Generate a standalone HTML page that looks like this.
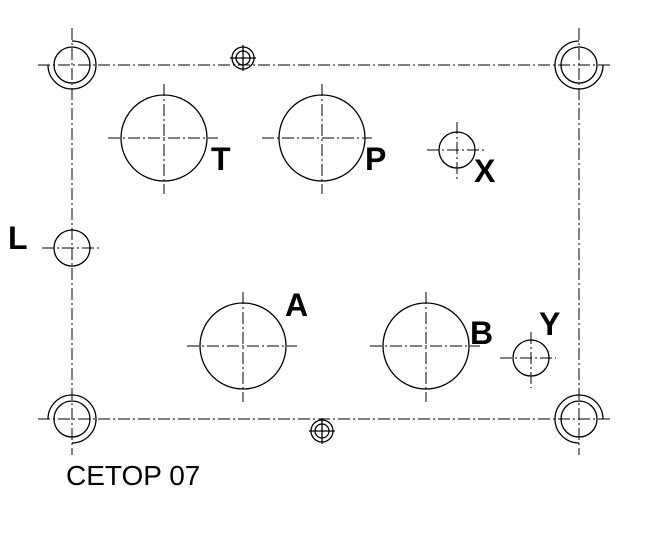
<!DOCTYPE html>
<html><head><style>body{margin:0;background:#fff}svg{display:block}text{font-family:"Liberation Sans",sans-serif;font-weight:bold;fill:#000}</style></head>
<body>
<svg width="650" height="560" viewBox="0 0 650 560" xmlns="http://www.w3.org/2000/svg">
<g stroke="#000" stroke-width="1" fill="none" stroke-dasharray="12,3,2,3">
<line x1="38" y1="65" x2="610" y2="65"/>
<line x1="38" y1="419" x2="610" y2="419"/>
<line x1="72" y1="28" x2="72" y2="455"/>
<line x1="579" y1="28" x2="579" y2="455"/>
<!-- big hole crosses -->
<line x1="108" y1="138" x2="218" y2="138"/><line x1="164" y1="84" x2="164" y2="194"/>
<line x1="262" y1="138" x2="372" y2="138"/><line x1="322" y1="84" x2="322" y2="194"/>
<line x1="187" y1="346" x2="297" y2="346"/><line x1="243" y1="292" x2="243" y2="402"/>
<line x1="370" y1="346" x2="480" y2="346"/><line x1="426" y1="292" x2="426" y2="402"/>
<line x1="427" y1="150" x2="487" y2="150"/><line x1="457" y1="122" x2="457" y2="180"/>
<line x1="42" y1="248" x2="102" y2="248"/>
<line x1="500" y1="358" x2="556" y2="358"/><line x1="531" y1="332" x2="531" y2="388"/>
</g>
<g stroke="#000" stroke-width="1.3" fill="none">
<circle cx="164" cy="138" r="43"/>
<circle cx="322" cy="138" r="43"/>
<circle cx="243" cy="346" r="43"/>
<circle cx="426" cy="346" r="43"/>
<circle cx="457" cy="150" r="18"/>
<circle cx="72" cy="248" r="18"/>
<circle cx="531" cy="358" r="18"/>
<circle cx="72" cy="65" r="18"/><path d="M72 41 A24 24 0 1 1 48 65"/>
<circle cx="579" cy="65" r="18"/><path d="M603 65 A24 24 0 1 1 579 41"/>
<circle cx="72" cy="419" r="18"/><path d="M48 419 A24 24 0 1 1 72 443"/>
<circle cx="579" cy="419" r="18"/><path d="M579 443 A24 24 0 1 1 603 419"/>
<circle cx="243" cy="58" r="11"/><circle cx="243" cy="58" r="7"/>
<line x1="230" y1="58" x2="256" y2="58"/><line x1="243" y1="45" x2="243" y2="71"/>
<circle cx="322" cy="431" r="11"/><circle cx="322" cy="431" r="7"/>
<line x1="309" y1="431" x2="335" y2="431"/><line x1="322" y1="418" x2="322" y2="444"/>
</g>
<text x="211" y="170" font-size="32">T</text>
<text x="365" y="170" font-size="32">P</text>
<text x="474" y="182" font-size="32">X</text>
<text x="8" y="249" font-size="32">L</text>
<text x="285" y="316" font-size="32">A</text>
<text x="470" y="344" font-size="32">B</text>
<text x="539" y="335" font-size="32">Y</text>
<text x="66" y="485" font-size="28" style="font-weight:normal">CETOP 07</text>
</svg>
</body></html>
